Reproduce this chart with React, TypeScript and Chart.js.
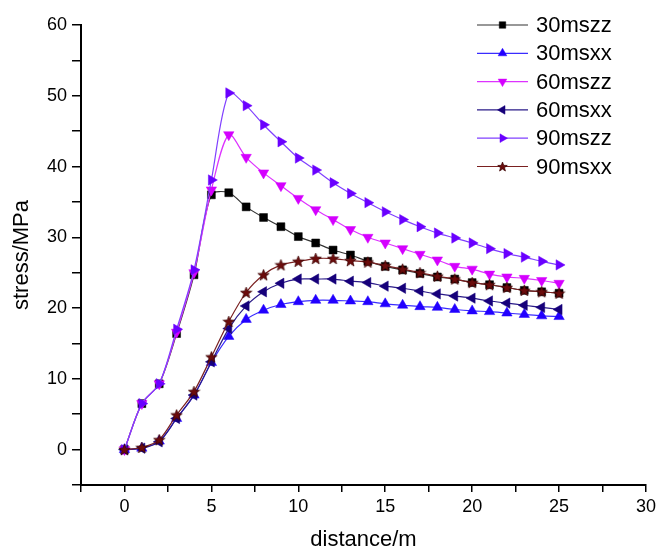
import React, { useEffect, useRef } from 'react';
import { Chart, registerables } from 'chart.js';
import { drawPoint } from 'chart.js/helpers';

Chart.register(...registerables);

const distance = [0, 1, 2, 3, 4, 5, 6, 7, 8, 9, 10, 11, 12, 13, 14, 15, 16, 17, 18, 19, 20, 21, 22, 23, 24, 25];

const s30zz = [0, 6.5, 9.3, 16.4, 24.7, 36.0, 36.3, 34.3, 32.8, 31.5, 30.1, 29.2, 28.2, 27.5, 26.6, 25.9, 25.4, 24.9, 24.4, 24.1, 23.6, 23.3, 22.9, 22.5, 22.3, 22.1];
const s30xx = [0, 0.2, 1.2, 4.4, 7.7, 12.3, 16.0, 18.4, 19.7, 20.5, 20.9, 21.1, 21.1, 21.0, 20.9, 20.6, 20.4, 20.2, 20.1, 19.8, 19.6, 19.5, 19.3, 19.1, 18.9, 18.8];
const s60zz = [0, 6.5, 9.3, 16.6, 25.0, 36.7, 44.5, 41.3, 39.1, 37.3, 35.5, 33.9, 32.5, 31.1, 30.0, 29.2, 28.4, 27.6, 26.8, 25.9, 25.5, 24.8, 24.4, 24.2, 23.9, 23.5];
const s60xx = [0, 0.2, 1.1, 4.4, 7.7, 12.4, 17.1, 20.3, 22.3, 23.5, 24.1, 24.1, 24.1, 23.8, 23.6, 23.1, 22.8, 22.4, 22.0, 21.7, 21.4, 21.0, 20.7, 20.4, 20.1, 19.8];
const s90zz = [0, 6.5, 9.3, 17.0, 25.4, 38.1, 50.4, 48.6, 45.9, 43.5, 41.2, 39.5, 37.7, 36.2, 34.9, 33.6, 32.5, 31.5, 30.6, 29.9, 29.2, 28.4, 27.7, 27.2, 26.6, 26.1];
const s90xx = [0, 0.3, 1.4, 4.9, 8.2, 13.1, 18.1, 22.2, 24.7, 26.1, 26.6, 27.0, 27.0, 26.7, 26.5, 26.0, 25.5, 25.0, 24.5, 24.1, 23.6, 23.3, 22.9, 22.5, 22.3, 22.1];

const seriesLabels = ['30mszz', '30msxx', '60mszz', '60msxx', '90mszz', '90msxx'];

const FONT = "'Liberation Sans', Arial, sans-serif";

function makeStar(size: number, fill: string, stroke: string): HTMLCanvasElement {
  const c = document.createElement('canvas');
  c.width = size;
  c.height = size;
  const ctx = c.getContext('2d')!;
  const cx = size / 2;
  const cy = size / 2 + 0.5;
  const outer = size / 2 - 0.5;
  const inner = outer * 0.42;
  ctx.beginPath();
  for (let i = 0; i < 10; i++) {
    const r = i % 2 === 0 ? outer : inner;
    const a = -Math.PI / 2 + (i * Math.PI) / 5;
    const px = cx + r * Math.cos(a);
    const py = cy + r * Math.sin(a);
    if (i === 0) ctx.moveTo(px, py);
    else ctx.lineTo(px, py);
  }
  ctx.closePath();
  ctx.fillStyle = fill;
  ctx.fill();
  ctx.lineWidth = 0.7;
  ctx.strokeStyle = stroke;
  ctx.stroke();
  return c;
}

export default function App() {
  const ref = useRef<HTMLCanvasElement | null>(null);

  useEffect(() => {
    if (!ref.current) return;
    const star = makeStar(13, '#6b0c0c', '#3a0000');
    const starSmall = makeStar(11, '#6b0c0c', '#3a0000');

    const mk = (i: number, data: number[], color: string, lineColor: string, style: any, rot: number, radius: number) => ({
      label: seriesLabels[i],
      data: distance.map((x, k) => ({ x, y: data[k] })),
      borderColor: lineColor,
      borderWidth: 1.2,
      backgroundColor: color,
      pointBackgroundColor: color,
      pointBorderColor: color,
      pointBorderWidth: 0.5,
      pointStyle: style,
      pointRotation: rot,
      pointRadius: radius,
      tension: 0.3,
      order: 5 - i,
      legendStyle: style === star ? starSmall : style,
    });

    const datasets: any[] = [
      mk(0, s30zz, '#000000', '#333333', 'rect', 0, 5.6),
      mk(1, s30xx, '#2200ff', '#3a2cff', 'triangle', 0, 6),
      mk(2, s60zz, '#d400ff', '#dd33ff', 'triangle', 180, 6),
      mk(3, s60xx, '#16007a', '#2a1a88', 'triangle', 270, 6),
      mk(4, s90zz, '#6a00ff', '#8040ff', 'triangle', 90, 6),
      mk(5, s90xx, '#6b0c0c', '#7a2020', star, 0, 6),
    ];

    const legendPlugin = {
      id: 'lineLegend',
      afterDraw(chart: any) {
        const ctx = chart.ctx;
        ctx.save();
        chart.data.datasets.forEach((ds: any, i: number) => {
          const y = 25 + 28.3 * i;
          ctx.strokeStyle = ds.borderColor;
          ctx.lineWidth = 1.2;
          ctx.beginPath();
          ctx.moveTo(477, y);
          ctx.lineTo(528, y);
          ctx.stroke();
          ctx.fillStyle = ds.pointBackgroundColor;
          ctx.strokeStyle = ds.pointBorderColor;
          ctx.lineWidth = 0.5;
          drawPoint(ctx, { pointStyle: ds.legendStyle, rotation: ds.pointRotation, radius: ds.legendStyle === 'rect' ? 4.6 : 5, borderWidth: 0.5 }, 502.5, y);
          ctx.fillStyle = '#000';
          ctx.font = `22px ${FONT}`;
          ctx.textAlign = 'left';
          ctx.textBaseline = 'middle';
          ctx.fillText(ds.label, 536, y + 1);
        });
        ctx.restore();
      },
    };

    const chart = new Chart(ref.current, {
      type: 'line',
      data: { datasets },
      options: {
        animation: false,
        responsive: false,
        devicePixelRatio: 1,
        layout: { padding: { top: 25, right: 11, left: 0, bottom: 0 } },
        plugins: { legend: { display: false }, tooltip: { enabled: false } },
        scales: {
          x: {
            type: 'linear',
            min: -2.5,
            max: 30,
            afterFit: (s: any) => { s.height = 67; s.paddingRight = 0; s.paddingLeft = 0; },
            ticks: {
              stepSize: 2.5,
              autoSkip: false,
              maxRotation: 0,
              color: '#000',
              padding: 4,
              font: { family: FONT, size: 18 },
              callback: (v: any) => (Number(v) % 5 === 0 ? String(v) : ''),
            },
            grid: { drawOnChartArea: false, drawTicks: true, tickLength: 7, color: '#000', lineWidth: 1.5 },
            border: { display: true, color: '#000', width: 2 },
            title: { display: true, text: 'distance/m', color: '#000', font: { family: FONT, size: 22 }, padding: { top: 0, bottom: -1 } },
          },
          y: {
            type: 'linear',
            min: -5,
            max: 60,
            afterFit: (s: any) => { s.width = 81; s.paddingTop = 0; s.paddingBottom = 0; },
            ticks: {
              stepSize: 5,
              autoSkip: false,
              color: '#000',
              padding: 5,
              font: { family: FONT, size: 18 },
              callback: (v: any) => (Number(v) % 10 === 0 && Number(v) >= 0 ? String(v) : ''),
            },
            grid: { drawOnChartArea: false, drawTicks: true, tickLength: 9, color: '#000', lineWidth: 1.5 },
            border: { display: true, color: '#000', width: 2 },
            title: { display: true, text: 'stress/MPa', color: '#000', font: { family: FONT, size: 22 }, padding: { top: 9, bottom: 0 } },
          },
        },
      } as any,
      plugins: [legendPlugin],
    });
    return () => chart.destroy();
  }, []);

  return (
    <div style={{ position: 'fixed', left: 0, top: 0, width: 657, height: 552, background: '#fff' }}>
      <canvas ref={ref} width={657} height={552} style={{ display: 'block' }} />
    </div>
  );
}
